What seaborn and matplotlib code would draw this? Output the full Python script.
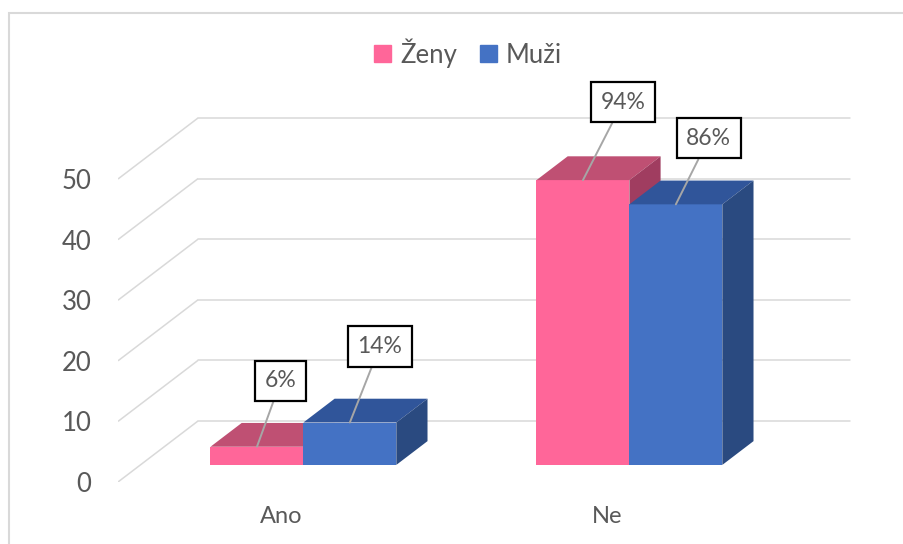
import matplotlib
matplotlib.use("Agg")
import matplotlib.pyplot as plt
import matplotlib.patches as mpatches
import seaborn as sns
import pandas as pd

# ---- data ----
categories = ["Ano", "Ne"]
series_names = ["Ženy", "Muži"]
zeny_values = [3, 47]
muzi_values = [7, 43]
y_ticks = [0, 10, 20, 30, 40, 50]

front_colors = ["#FF6699", "#4472C4"]
top_colors = ["#BF5073", "#30559A"]
side_colors = ["#A03D60", "#2A4A80"]

df = pd.DataFrame({
    "kategorie": categories * 2,
    "pohlavi": [series_names[0]] * 2 + [series_names[1]] * 2,
    "hodnota": zeny_values + muzi_values,
})
totals = {s: df.loc[df.pohlavi == s, "hodnota"].sum() for s in series_names}

sns.set_theme(style="white")
plt.rcParams["font.family"] = ["Lato", "DejaVu Sans"]

W, H = 904, 544
fig = plt.figure(figsize=(W / 100, H / 100), dpi=100)
# axes: x from px 118..770, y value 0 at px 482, 6.06 px per unit
px_per_unit = 6.06
ymax = 72
ax_h = ymax * px_per_unit
ax = fig.add_axes([118 / W, (H - 482) / H, 652 / W, ax_h / H])

sns.barplot(data=df, x="kategorie", y="hodnota", hue="pohlavi",
            order=categories, hue_order=series_names,
            palette=front_colors, width=0.57, gap=0, ax=ax, legend=False,
            saturation=1, edgecolor="none", linewidth=0)

ax.set_xlim(-0.5, 1.5)
ax.set_ylim(0, ymax)

# depth geometry (full floor depth = 80 px right, 61 px up)
depth_dx = 80 / 326.0
depth_dy = 61 / px_per_unit
d1, d2 = 0.28, 0.67
sx, sy = d1 * depth_dx, d1 * depth_dy
ddx, ddy = (d2 - d1) * depth_dx, (d2 - d1) * depth_dy

grid_c = "#D9D9D9"
for v in y_ticks:
    ax.plot([-0.5, -0.5 + depth_dx], [v, v + depth_dy], color=grid_c, lw=1.1,
            zorder=0.5, solid_capstyle="butt")
    ax.plot([-0.5 + depth_dx, 1.5 + depth_dx], [v + depth_dy, v + depth_dy],
            color=grid_c, lw=1.1, zorder=0.5, clip_on=False)

label_offsets = {(0, 0): (24, 66), (0, 1): (30, 76), (1, 0): (40, 78), (1, 1): (33, 66)}

bars = [p for p in ax.patches if isinstance(p, mpatches.Rectangle)]
for p in bars:
    xc = p.get_x() + p.get_width() / 2
    ci = int(round(xc))
    hi = 0 if xc < ci else 1
    val = p.get_height()
    z = 2 + ci * 10 + hi * 3
    xl = p.get_x() + sx
    xr = xl + p.get_width()
    yb = sy
    yt = sy + val
    p.set_x(xl)
    p.set_y(yb)
    p.set_zorder(z)
    p.set_facecolor(front_colors[hi])
    top = mpatches.Polygon([(xl, yt), (xr, yt), (xr + ddx, yt + ddy), (xl + ddx, yt + ddy)],
                           closed=True, facecolor=top_colors[hi], edgecolor="none", zorder=z + 1)
    side = mpatches.Polygon([(xr, yb), (xr, yt), (xr + ddx, yt + ddy), (xr + ddx, yb + ddy)],
                            closed=True, facecolor=side_colors[hi], edgecolor="none", zorder=z + 1)
    ax.add_patch(top)
    ax.add_patch(side)
    pct = round(val / totals[series_names[hi]] * 100)
    ox, oy = label_offsets[(ci, hi)]
    ax.annotate(f"{pct}%", xy=((xl + xr) / 2, yt), xytext=(ox, oy),
                textcoords="offset pixels", ha="center", va="center",
                fontsize=16.5, color="#595959", zorder=50,
                bbox=dict(boxstyle="square,pad=0.42", fc="white", ec="black", lw=1.6),
                arrowprops=dict(arrowstyle="-", color="#A6A6A6", lw=1.4,
                                shrinkA=0, shrinkB=0))

# axes styling
for s in ax.spines.values():
    s.set_visible(False)
ax.set_yticks(y_ticks)
ax.set_yticklabels([str(v) for v in y_ticks], fontsize=18.5, color="#595959")
ax.tick_params(axis="y", length=0, pad=19)
ax.set_xticks(range(len(categories)))
ax.set_xticklabels(categories, fontsize=17, color="#595959")
ax.tick_params(axis="x", length=0, pad=17)
ax.set_xlabel("")
ax.set_ylabel("")
ax.grid(False)

handles = [mpatches.Patch(color=c, label=n) for c, n in zip(front_colors, series_names)]
fig.legend(handles=handles, loc="center", bbox_to_anchor=(468 / W, 1 - 53 / H), ncol=2,
           frameon=False, fontsize=18.5, handlelength=0.65, handleheight=0.65,
           handletextpad=0.35, columnspacing=0.9, labelcolor="#595959")

# chart area border
fig.patches.append(mpatches.Rectangle((9 / W, -0.1), 1.2, 1.1 - 13 / H + 0.0,
                                      transform=fig.transFigure, fill=False,
                                      edgecolor="#D9D9D9", lw=1.5))

fig.savefig("out.png", dpi=100)
